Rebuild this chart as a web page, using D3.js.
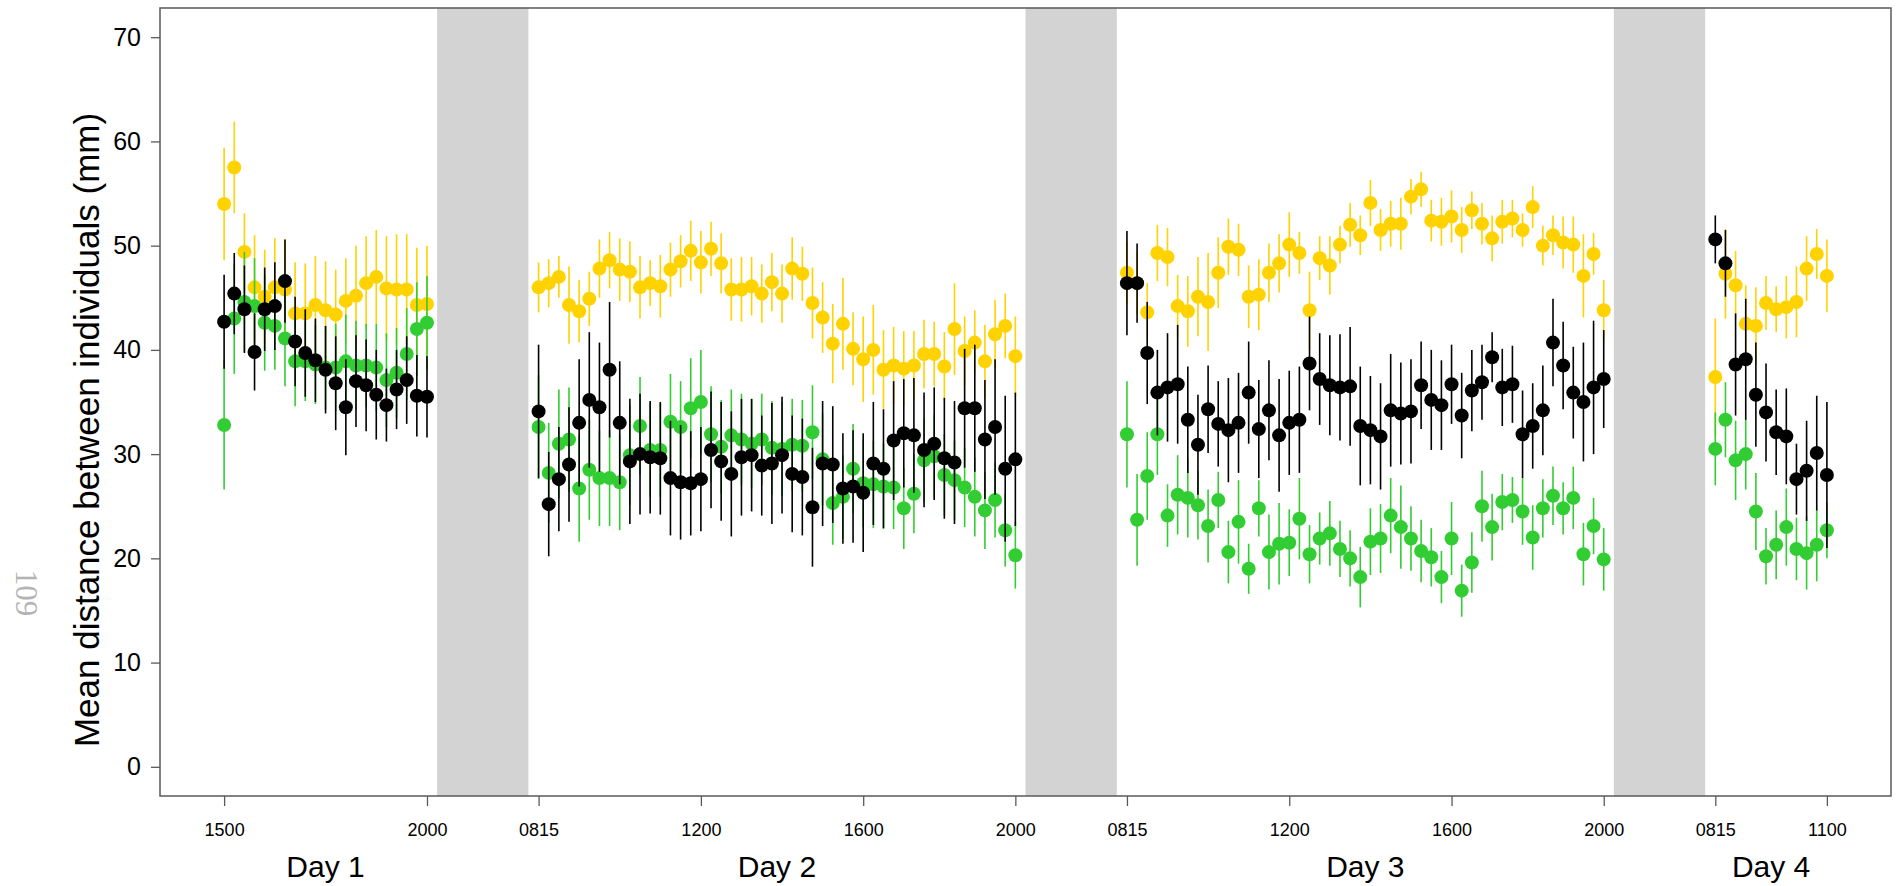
<!DOCTYPE html>
<html>
<head>
<meta charset="utf-8">
<script src="https://cdn.jsdelivr.net/npm/d3@7"></script>
<style>
  html, body { margin: 0; padding: 0; background: #fff; }
  svg { display: block; }
</style>
</head>
<body>
<script>
// ---- Slot layout: one slot = 15 min; nights are left empty on a shared slot axis ----
const dayNames     = ["Day 1", "Day 2", "Day 3", "Day 4"];
const dayFirstSlot = [0, 31, 89, 147];
const dayLastSlot  = [20, 78, 136, 158];
const nightStart   = [21, 79, 137];
const nightEnd     = [30, 88, 146];

const tickSlots  = [0, 20, 31, 47, 63, 78, 89, 105, 121, 136, 147, 158];
const tickLabels = ["1500", "2000", "0815", "1200", "1600", "2000", "0815", "1200", "1600", "2000", "0815", "1100"];
const yTicks     = [0, 10, 20, 30, 40, 50, 60, 70];

// ---- Mean distance (mm) and standard error, per group, in slot order ----
const goldMean = [
  // Day 1
  54.0, 57.5, 49.4, 46.0, 45.1, 46.0, 45.8, 43.5, 43.5, 44.3, 43.8, 43.4, 44.7, 45.2, 46.4, 47.0, 45.9, 45.8, 45.8, 44.3, 44.4,
  // Day 2
  46.0, 46.4, 47.0, 44.3, 43.7, 44.9, 47.8, 48.6, 47.7, 47.5, 46.0, 46.4, 46.1, 47.7, 48.5, 49.5, 48.4, 49.7, 48.3, 45.8, 45.8, 46.1, 45.4, 46.5,
  45.4, 47.8, 47.3, 44.5, 43.1, 40.6, 42.5, 40.1, 39.1, 40.0, 38.1, 38.5, 38.2, 38.5, 39.6, 39.6, 38.4, 42.0, 39.9, 40.7, 38.9, 41.5, 42.3, 39.4,
  // Day 3
  47.4, 46.4, 43.6, 49.3, 48.9, 44.2, 43.7, 45.1, 44.6, 47.4, 49.9, 49.6, 45.1, 45.3, 47.4, 48.3, 50.1, 49.3, 43.8, 48.8, 48.1, 50.1, 52.0, 51.0, 54.1, 51.5,
  52.1, 52.1, 54.7, 55.4, 52.4, 52.3, 52.8, 51.5, 53.4, 52.1, 50.7, 52.3, 52.6, 51.5, 53.7, 50.0, 51.0, 50.3, 50.1, 47.1, 49.2, 43.8,
  // Day 4
  37.4, 47.3, 46.2, 42.5, 42.3, 44.5, 43.9, 44.1, 44.6, 47.8, 49.2, 47.1
];
const goldSE = [
  5.4, 4.4, 3.7, 5.0, 4.5, 4.7, 4.8, 4.9, 4.8, 4.7, 4.7, 4.3, 4.1, 4.8, 4.5, 4.5, 5.0, 5.3, 5.3, 5.5, 5.6,
  2.4, 2.3, 2.0, 3.7, 3.0, 2.6, 2.8, 2.7, 3.0, 2.9, 3.0, 2.2, 3.0, 2.6, 2.5, 2.9, 3.0, 2.6, 2.9, 3.0, 3.1, 2.8, 2.8, 2.8,
  2.8, 3.0, 2.6, 3.4, 3.4, 3.8, 4.4, 3.5, 4.1, 4.3, 3.8, 3.7, 3.6, 3.3, 3.3, 3.1, 3.3, 4.4, 3.3, 3.1, 3.5, 3.3, 3.1, 3.8,
  3.0, 3.0, 2.8, 2.7, 2.8, 3.0, 3.4, 3.8, 4.7, 3.4, 2.7, 2.5, 3.0, 3.4, 2.8, 2.8, 3.1, 2.0, 3.7, 2.1, 2.8, 1.8, 2.1, 1.9, 2.2, 2.0,
  2.2, 2.5, 1.7, 1.7, 2.0, 2.3, 2.5, 2.2, 1.8, 2.0, 2.2, 2.1, 1.8, 1.6, 2.0, 1.9, 1.9, 2.5, 2.7, 4.0, 2.0, 2.9,
  5.6, 4.3, 3.3, 3.7, 3.7, 2.6, 2.2, 3.0, 3.4, 3.1, 2.4, 3.5
];

const greenMean = [
  // Day 1
  32.8, 43.0, 44.6, 44.2, 42.6, 42.3, 41.1, 38.9, 38.9, 38.6, 38.3, 38.3, 38.9, 38.5, 38.5, 38.3, 37.1, 37.8, 39.6, 42.0, 42.6,
  // Day 2
  32.6, 28.2, 31.0, 31.4, 26.7, 28.5, 27.7, 27.7, 27.3, 29.9, 32.7, 30.4, 30.4, 33.1, 32.6, 34.4, 35.0, 31.9, 30.7, 31.8, 31.4, 31.0, 31.4, 30.6,
  30.5, 30.9, 30.8, 32.1, 29.5, 25.3, 25.9, 28.6, 27.2, 27.1, 26.9, 26.8, 24.8, 26.2, 29.4, 29.8, 28.0, 27.5, 26.8, 25.9, 24.6, 25.6, 22.7, 20.3,
  // Day 3
  31.9, 23.7, 27.9, 31.9, 24.1, 26.1, 25.8, 25.1, 23.1, 25.6, 20.6, 23.5, 19.0, 24.8, 20.6, 21.4, 21.5, 23.8, 20.4, 21.9, 22.4, 20.9, 20.0, 18.2, 21.6, 21.9,
  24.1, 23.0, 21.9, 20.7, 20.1, 18.2, 21.9, 16.9, 19.6, 25.0, 23.0, 25.4, 25.6, 24.5, 22.0, 24.8, 26.0, 24.8, 25.8, 20.4, 23.1, 19.9,
  // Day 4
  30.5, 33.3, 29.4, 30.0, 24.5, 20.2, 21.3, 23.0, 20.9, 20.5, 21.3, 22.7
];
const greenSE = [
  6.2, 5.3, 4.8, 4.6, 4.6, 4.2, 4.6, 4.3, 3.8, 3.8, 4.0, 4.2, 4.5, 4.3, 4.0, 4.2, 4.5, 4.3, 4.4, 4.5, 4.5,
  5.0, 4.8, 5.2, 5.0, 5.1, 4.8, 4.6, 4.6, 4.6, 4.8, 4.7, 4.5, 4.5, 4.6, 4.4, 4.8, 5.0, 4.6, 4.5, 4.4, 4.4, 4.3, 4.4, 4.5,
  4.5, 4.4, 4.4, 4.5, 4.4, 4.0, 4.0, 4.3, 4.2, 4.2, 4.1, 4.0, 3.9, 3.8, 4.0, 4.0, 3.9, 3.8, 3.8, 3.8, 3.7, 3.6, 3.5, 3.2,
  5.1, 4.4, 4.2, 3.9, 3.0, 3.8, 3.8, 3.3, 3.5, 2.7, 3.0, 4.0, 2.4, 2.7, 3.6, 3.9, 3.2, 3.9, 2.8, 2.5, 3.1, 2.7, 2.7, 2.9, 3.2, 3.3,
  3.6, 4.0, 3.1, 3.0, 2.8, 2.5, 3.5, 2.5, 2.9, 3.4, 3.2, 2.7, 2.2, 3.2, 3.1, 2.8, 2.8, 2.5, 3.0, 3.0, 2.7, 3.0,
  3.5, 3.6, 3.8, 3.4, 3.7, 2.7, 3.3, 3.7, 3.0, 3.5, 3.5, 2.7
];

const blackMean = [
  // Day 1
  42.7, 45.4, 43.9, 39.8, 43.9, 44.2, 46.6, 40.8, 39.7, 39.0, 38.1, 36.8, 34.5, 37.0, 36.6, 35.7, 34.7, 36.2, 37.1, 35.6, 35.5,
  // Day 2
  34.1, 25.2, 27.6, 29.0, 33.0, 35.2, 34.5, 38.1, 33.0, 29.3, 30.0, 29.7, 29.6, 27.7, 27.3, 27.2, 27.6, 30.4, 29.3, 28.1, 29.7, 29.9, 28.9, 29.1,
  29.9, 28.1, 27.8, 24.9, 29.1, 29.0, 26.7, 26.9, 26.3, 29.1, 28.6, 31.3, 32.0, 31.8, 30.4, 31.0, 29.6, 29.2, 34.4, 34.4, 31.4, 32.6, 28.6, 29.5,
  // Day 3
  46.4, 46.4, 39.7, 35.9, 36.4, 36.7, 33.3, 30.9, 34.3, 32.9, 32.3, 33.0, 35.9, 32.4, 34.2, 31.8, 33.0, 33.3, 38.7, 37.2, 36.6, 36.4, 36.5, 32.7, 32.3, 31.7,
  34.2, 33.9, 34.1, 36.6, 35.2, 34.7, 36.7, 33.7, 36.1, 36.9, 39.3, 36.4, 36.7, 31.9, 32.7, 34.2, 40.7, 38.5, 35.9, 35.0, 36.4, 37.2,
  // Day 4
  50.6, 48.3, 38.6, 39.1, 35.7, 34.0, 32.1, 31.7, 27.6, 28.4, 30.1, 28.0
];
const blackSE = [
  4.5, 3.9, 4.2, 3.7, 4.0, 4.2, 4.0, 4.3, 4.2, 4.0, 4.2, 4.5, 4.6, 4.4, 4.4, 4.3, 3.5, 3.8, 4.2, 3.9, 3.9,
  6.4, 5.0, 5.0, 5.5, 6.1, 6.5, 6.2, 6.5, 5.9, 6.0, 5.8, 5.4, 5.4, 5.5, 5.5, 5.0, 5.0, 5.6, 5.7, 6.0, 5.6, 5.4, 4.8, 5.8,
  5.6, 5.6, 5.6, 5.7, 6.0, 5.6, 5.3, 5.4, 5.7, 5.9, 5.7, 5.7, 5.2, 5.5, 5.5, 5.4, 5.8, 5.9, 5.7, 6.1, 5.7, 6.5, 7.0, 6.4,
  5.0, 3.8, 4.9, 4.1, 5.2, 5.7, 5.1, 4.8, 4.2, 4.1, 5.0, 4.8, 4.9, 4.7, 4.8, 5.4, 5.0, 5.1, 4.5, 4.4, 4.8, 5.1, 5.7, 5.7, 5.2, 5.1,
  5.4, 4.9, 5.0, 4.2, 4.8, 4.3, 3.8, 4.1, 3.9, 3.6, 2.4, 3.7, 3.7, 4.2, 4.1, 4.3, 4.2, 4.2, 4.4, 5.7, 6.4, 4.7,
  2.3, 3.2, 4.9, 5.8, 5.0, 4.7, 4.1, 4.6, 3.4, 4.8, 5.5, 7.0
];

// ---- Layout ----
const W = 1899, H = 886;
const plot = { left: 160, right: 1891, top: 8, bottom: 796 };

// slot of every observation, day after day
const slots = dayFirstSlot.flatMap((s, d) => d3.range(s, dayLastSlot[d] + 1));

const svg = d3.select("body").append("svg")
  .attr("width", W).attr("height", H)
  .style("font-family", "'Liberation Sans', Arial, sans-serif");

const x = d3.scaleLinear().domain([-6.32, 164.32]).range([plot.left, plot.right]);
const y = d3.scaleLinear().domain([-2.8, 72.8]).range([plot.bottom, plot.top]);

// night shading
svg.append("g").selectAll("rect")
  .data(nightStart.map((s, i) => [s, nightEnd[i]]))
  .join("rect")
  .attr("x", d => x(d[0]))
  .attr("width", d => x(d[1]) - x(d[0]))
  .attr("y", plot.top)
  .attr("height", plot.bottom - plot.top)
  .attr("fill", "#d3d3d3");

// groups: bars first, then points, one group after the other
const groups = [
  { mean: goldMean,  se: goldSE,  color: "#ffd200" },
  { mean: greenMean, se: greenSE, color: "#32cd32" },
  { mean: blackMean, se: blackSE, color: "#000000" }
];

groups.forEach(g => {
  const rows = slots.map((s, i) => ({ s, m: g.mean[i], e: g.se[i] }));
  const layer = svg.append("g");
  layer.selectAll("line")
    .data(rows).join("line")
    .attr("x1", d => x(d.s)).attr("x2", d => x(d.s))
    .attr("y1", d => y(d.m - d.e)).attr("y2", d => y(d.m + d.e))
    .attr("stroke", g.color).attr("stroke-width", 1.6);
  layer.selectAll("circle")
    .data(rows).join("circle")
    .attr("cx", d => x(d.s)).attr("cy", d => y(d.m))
    .attr("r", 7)
    .attr("fill", g.color);
});

// frame
svg.append("rect")
  .attr("x", plot.left).attr("y", plot.top)
  .attr("width", plot.right - plot.left).attr("height", plot.bottom - plot.top)
  .attr("fill", "none").attr("stroke", "#5a5a5a").attr("stroke-width", 1.5);

// y axis
const yAxis = svg.append("g")
  .attr("transform", `translate(${plot.left},0)`)
  .call(d3.axisLeft(y).tickValues(yTicks).tickSize(9).tickPadding(10));
yAxis.select(".domain").remove();
yAxis.selectAll(".tick line").attr("stroke", "#5a5a5a").attr("stroke-width", 1.3);
yAxis.selectAll(".tick text")
  .attr("fill", "#000").style("font-size", "25px")
  .style("font-family", "'Liberation Sans', Arial, sans-serif");

// x axis
const xAxis = svg.append("g")
  .attr("transform", `translate(0,${plot.bottom})`)
  .call(d3.axisBottom(x).tickValues(tickSlots)
    .tickFormat((d, i) => tickLabels[i]).tickSize(10).tickPadding(17));
xAxis.select(".domain").remove();
xAxis.selectAll(".tick line").attr("stroke", "#5a5a5a").attr("stroke-width", 1.3);
xAxis.selectAll(".tick text")
  .attr("fill", "#000").style("font-size", "18px")
  .style("font-family", "'Liberation Sans', Arial, sans-serif");

// day labels, centred on each day's recorded span
svg.append("g").selectAll("text")
  .data(dayNames).join("text")
  .attr("x", (d, i) => x((dayFirstSlot[i] + dayLastSlot[i]) / 2))
  .attr("y", 877)
  .attr("text-anchor", "middle")
  .style("font-size", "30px")
  .text(d => d);

// y axis title
svg.append("text")
  .attr("transform", `translate(99,${(plot.top + plot.bottom) / 2 + 28}) rotate(-90)`)
  .attr("text-anchor", "middle")
  .style("font-size", "35px")
  .text("Mean distance between individuals (mm)");

// page number in the margin
svg.append("text")
  .attr("transform", "translate(16,593) rotate(90)")
  .attr("text-anchor", "middle")
  .style("font-family", "'Liberation Serif', 'Times New Roman', serif")
  .style("font-size", "31px")
  .attr("fill", "#b4b4b4")
  .text("109");
</script>
</body>
</html>
